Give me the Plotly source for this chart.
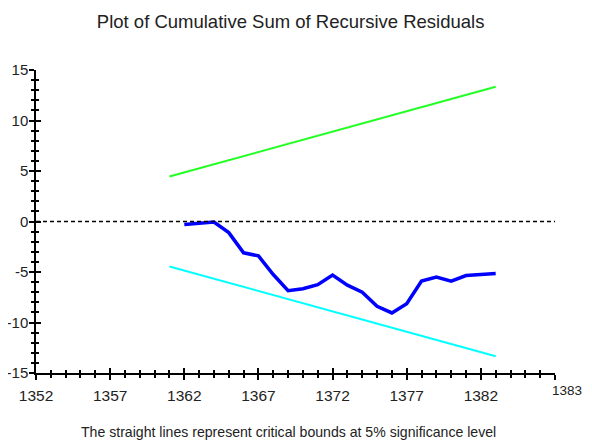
import plotly.graph_objects as go

# ---- data ----
years_cusum = [1362, 1363, 1364, 1365, 1366, 1367, 1368, 1369, 1370, 1371, 1372,
               1373, 1374, 1375, 1376, 1377, 1378, 1379, 1380, 1381, 1382, 1383]
cusum = [-0.3, -0.2, -0.05, -1.1, -3.1, -3.4, -5.25, -6.85, -6.65, -6.25, -5.3,
         -6.3, -7.0, -8.4, -9.05, -8.15, -5.9, -5.5, -5.9, -5.35, -5.25, -5.15]
bound_years = [1361, 1383]
upper_bound = [4.45, 13.35]
lower_bound = [-4.45, -13.35]

x_major = [1352, 1357, 1362, 1367, 1372, 1377, 1382, 1387]
x_labels = ["1352", "1357", "1362", "1367", "1372", "1377", "1382", ""]
y_major = [-15, -10, -5, 0, 5, 10, 15]
y_labels = ["-15", "-10", "-5", "0", "5", "10", "15"]

FONT = "Liberation Sans, Arial, sans-serif"
TXT = "#222"

fig = go.Figure()
fig.add_trace(go.Scatter(x=bound_years, y=upper_bound, mode="lines",
                         line=dict(color="#22ff22", width=2), showlegend=False))
fig.add_trace(go.Scatter(x=bound_years, y=lower_bound, mode="lines",
                         line=dict(color="#00ffff", width=2), showlegend=False))
fig.add_trace(go.Scatter(x=years_cusum, y=cusum, mode="lines",
                         line=dict(color="#0000ff", width=3.5), showlegend=False))
# helper invisible trace for the overlay axes (inner halves of ticks)
fig.add_trace(go.Scatter(x=[x_major[0]], y=[y_major[0]], xaxis="x2", yaxis="y2",
                         mode="markers", marker=dict(opacity=0), showlegend=False,
                         hoverinfo="skip"))

fig.add_hline(y=0, line=dict(color="black", width=1.5, dash="4px,3px"))

axis_common = dict(showgrid=False, zeroline=False, showline=True, automargin=False,
                   linecolor="black", linewidth=1.5, tickcolor="black", tickwidth=1.5)
minor_x = dict(tickmode="linear", tick0=1352, dtick=1, ticklen=3,
               tickcolor="black", tickwidth=1.5)
minor_y = dict(tickmode="linear", tick0=-15, dtick=1, ticklen=3,
               tickcolor="black", tickwidth=1.5)

fig.update_layout(
    width=584, height=434,
    paper_bgcolor="white", plot_bgcolor="white",
    margin=dict(l=28, r=37, t=62, b=69, autoexpand=False),
    title=dict(text="Plot of Cumulative Sum of Recursive Residuals",
               x=0.484, xanchor="center", y=1 - 14 / 434, yanchor="middle",
               font=dict(family=FONT, size=18.5, color=TXT)),
    font=dict(family=FONT, size=15, color=TXT),
    xaxis=dict(range=[1352, 1387], tickmode="array", tickvals=x_major, ticktext=x_labels,
               ticks="outside", ticklen=5, ticklabelstandoff=3,
               minor=dict(ticks="outside", **minor_x),
               tickfont=dict(size=15.5), **axis_common),
    yaxis=dict(range=[-15, 15], tickmode="array", tickvals=y_major, ticktext=y_labels,
               ticks="outside", ticklen=5, ticklabelstandoff=-2,
               minor=dict(ticks="outside", **minor_y),
               tickfont=dict(size=15), **axis_common),
    xaxis2=dict(overlaying="x", matches="x", anchor="y2", side="bottom",
                tickmode="array", tickvals=x_major, showticklabels=False,
                ticks="inside", ticklen=5, minor=dict(ticks="inside", **minor_x),
                **axis_common),
    yaxis2=dict(overlaying="y", matches="y", anchor="x2", side="left",
                tickmode="array", tickvals=y_major, showticklabels=False,
                ticks="inside", ticklen=5, minor=dict(ticks="inside", **minor_y),
                **axis_common),
    annotations=[
        dict(text="1383", x=1387, y=0, xref="x", yref="paper", xanchor="center",
             yanchor="middle", xshift=12, yshift=-17, showarrow=False,
             font=dict(family=FONT, size=13.5, color=TXT)),
        dict(text="The straight lines represent critical bounds at 5% significance level",
             x=0.4865, y=-0.195, xref="paper", yref="paper", xanchor="center",
             yanchor="middle", showarrow=False,
             font=dict(family=FONT, size=14.1, color=TXT)),
    ],
)

fig.write_html("out.html")
